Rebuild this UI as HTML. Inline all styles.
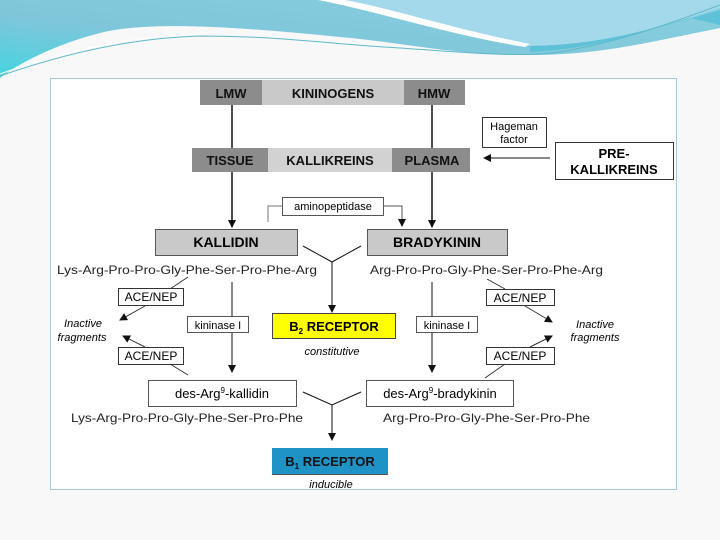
<!DOCTYPE html>
<html><head><meta charset="utf-8"><style>
html,body{margin:0;padding:0;background:#fff;}
svg{display:block;font-family:"Liberation Sans",sans-serif;}
</style></head><body>
<svg width="720" height="540" viewBox="0 0 720 540" xmlns="http://www.w3.org/2000/svg">
<defs>
<linearGradient id="g1" x1="0" y1="1" x2="1" y2="0">
<stop offset="0" stop-color="#45d4e0"/><stop offset="0.4" stop-color="#7fc6da"/><stop offset="1" stop-color="#88cfe0"/>
</linearGradient>
<marker id="a" markerWidth="8" markerHeight="8" refX="7" refY="4" orient="auto" markerUnits="userSpaceOnUse"><path d="M0,0 L8,4 L0,8 Z" fill="#111"/></marker>
</defs>
<rect width="720" height="540" fill="#f8f8f8"/>
<!-- wave -->
<path d="M0,0 H720 V28 C650,42 600,55 530,55 C450,55 400,42 340,37 C250,28 150,20 100,33 C60,43 20,62 0,78 Z" fill="url(#g1)"/>
<path d="M345,0 H720 V8 C650,30 600,45 530,46 C450,30 390,8 345,0 Z" fill="#a3d9ea"/>
<path d="M690,18 C640,32 600,48 530,52 L530,46 C600,45 650,30 720,10 V25 Z" fill="#56bfd6" opacity="0.8"/>
<path d="M318,0 C380,12 450,35 525,47 L530,44 C450,28 390,8 345,0 Z" fill="#fff"/>
<path d="M0,76 C60,55 130,38 200,36 C280,36 330,44 400,48 C460,52 520,58 560,52 C620,42 680,20 720,5" fill="none" stroke="#5fb8c8" stroke-width="1"/>
<path d="M0,74 C60,52 130,36 200,34" fill="none" stroke="#fff" stroke-width="1"/>
<!-- frame -->
<rect x="50.5" y="78.5" width="626" height="411" fill="#fff" stroke="#a9c6dc"/>
<!-- kininogens -->
<rect x="200" y="80" width="62" height="25" fill="#8c8c8c"/>
<rect x="262" y="80" width="142" height="25" fill="#c9c9c9"/>
<rect x="404" y="80" width="61" height="25" fill="#8c8c8c"/>
<g font-weight="bold" font-size="13" text-anchor="middle" fill="#111">
<text x="231" y="98">LMW</text><text x="333" y="98">KININOGENS</text><text x="434" y="98">HMW</text>
</g>
<line x1="232" y1="105" x2="232" y2="148" stroke="#111" stroke-width="1.5"/>
<line x1="432" y1="105" x2="432" y2="148" stroke="#111" stroke-width="1.5"/>
<!-- hageman -->
<rect x="482.5" y="117.5" width="64" height="30" fill="#fff" stroke="#333"/>
<text x="514" y="130" font-size="11" text-anchor="middle">Hageman</text>
<text x="514" y="143" font-size="11" text-anchor="middle">factor</text>
<!-- kallikreins -->
<rect x="192" y="148" width="76" height="24" fill="#8c8c8c"/>
<rect x="268" y="148" width="124" height="24" fill="#d2d2d2"/>
<rect x="392" y="148" width="78" height="24" fill="#8c8c8c"/>
<g font-weight="bold" font-size="13" text-anchor="middle" fill="#111">
<text x="230" y="165">TISSUE</text><text x="330" y="165">KALLIKREINS</text><text x="432" y="165">PLASMA</text>
</g>
<line x1="550" y1="158" x2="484" y2="158" stroke="#111" marker-end="url(#a)"/>
<rect x="555.5" y="142.5" width="118" height="37" fill="#fff" stroke="#333"/>
<text x="614" y="158" font-size="13" font-weight="bold" text-anchor="middle">PRE-</text>
<text x="614" y="174" font-size="13" font-weight="bold" text-anchor="middle">KALLIKREINS</text>
<line x1="232" y1="172" x2="232" y2="227" stroke="#111" stroke-width="1.5" marker-end="url(#a)"/>
<line x1="432" y1="172" x2="432" y2="227" stroke="#111" stroke-width="1.5" marker-end="url(#a)"/>
<!-- aminopeptidase -->
<polyline points="268,222 268,206 282,206" fill="none" stroke="#777"/>
<polyline points="383,206 402,206 402,226" fill="none" stroke="#555" marker-end="url(#a)"/>
<rect x="282.5" y="197.5" width="101" height="18" fill="#fff" stroke="#555"/>
<text x="333" y="210" font-size="11" text-anchor="middle">aminopeptidase</text>
<!-- kallidin/bradykinin -->
<rect x="155.5" y="229.5" width="142" height="26" fill="#c9c9c9" stroke="#555"/>
<text x="226" y="247" font-size="14" font-weight="bold" text-anchor="middle">KALLIDIN</text>
<rect x="367.5" y="229.5" width="140" height="26" fill="#c9c9c9" stroke="#555"/>
<text x="437" y="247" font-size="14" font-weight="bold" text-anchor="middle">BRADYKININ</text>
<polyline points="303,246 332,262 361,246" fill="none" stroke="#111"/>
<line x1="332" y1="262" x2="332" y2="312" stroke="#111" marker-end="url(#a)"/>
<g font-size="12" fill="#222">
<text x="57" y="274" textLength="260" lengthAdjust="spacingAndGlyphs">Lys-Arg-Pro-Pro-Gly-Phe-Ser-Pro-Phe-Arg</text>
<text x="370" y="274" textLength="233" lengthAdjust="spacingAndGlyphs">Arg-Pro-Pro-Gly-Phe-Ser-Pro-Phe-Arg</text>
</g>
<!-- left side -->
<line x1="232" y1="282" x2="232" y2="372" stroke="#111" marker-end="url(#a)"/>
<rect x="187.5" y="316.5" width="61" height="16" fill="#fff" stroke="#555"/>
<text x="218" y="329" font-size="11" text-anchor="middle">kininase I</text>
<line x1="188" y1="277" x2="170" y2="289" stroke="#333"/>
<rect x="118.5" y="288.5" width="65" height="17" fill="#fff" stroke="#333"/>
<text x="151" y="301" font-size="12" text-anchor="middle">ACE/NEP</text>
<line x1="145" y1="306" x2="120" y2="320" stroke="#333" marker-end="url(#a)"/>
<rect x="118.5" y="347.5" width="65" height="17" fill="#fff" stroke="#333"/>
<text x="151" y="360" font-size="12" text-anchor="middle">ACE/NEP</text>
<line x1="145" y1="347" x2="123" y2="336" stroke="#333" marker-end="url(#a)"/>
<line x1="170" y1="364" x2="188" y2="375" stroke="#333"/>
<g font-size="11" font-style="italic" text-anchor="middle">
<text x="83" y="327">Inactive</text><text x="82" y="341">fragments</text>
<text x="595" y="328">Inactive</text><text x="595" y="341">fragments</text>
</g>
<!-- right side -->
<line x1="432" y1="282" x2="432" y2="372" stroke="#111" marker-end="url(#a)"/>
<rect x="416.5" y="316.5" width="61" height="16" fill="#fff" stroke="#555"/>
<text x="447" y="329" font-size="11" text-anchor="middle">kininase I</text>
<line x1="487" y1="279" x2="505" y2="289" stroke="#333"/>
<rect x="486.5" y="289.5" width="68" height="16" fill="#fff" stroke="#333"/>
<text x="520" y="302" font-size="12" text-anchor="middle">ACE/NEP</text>
<line x1="525" y1="306" x2="552" y2="322" stroke="#333" marker-end="url(#a)"/>
<rect x="486.5" y="347.5" width="68" height="17" fill="#fff" stroke="#333"/>
<text x="520" y="360" font-size="12" text-anchor="middle">ACE/NEP</text>
<line x1="530" y1="347" x2="552" y2="336" stroke="#333" marker-end="url(#a)"/>
<line x1="505" y1="364" x2="485" y2="378" stroke="#333"/>
<!-- B2 -->
<rect x="272.5" y="313.5" width="123" height="25" fill="#ffff00" stroke="#444"/>
<text x="334" y="331" font-size="13" font-weight="bold" text-anchor="middle">B<tspan font-size="8" dy="3">2</tspan><tspan dy="-3"> RECEPTOR</tspan></text>
<text x="332" y="355" font-size="11" font-style="italic" text-anchor="middle">constitutive</text>
<!-- des-Arg -->
<rect x="148.5" y="380.5" width="148" height="26" fill="#fff" stroke="#555"/>
<text x="222" y="398" font-size="13" text-anchor="middle">des-Arg<tspan font-size="8" dy="-5">9</tspan><tspan dy="5">-kallidin</tspan></text>
<rect x="366.5" y="380.5" width="147" height="26" fill="#fff" stroke="#555"/>
<text x="440" y="398" font-size="13" text-anchor="middle">des-Arg<tspan font-size="8" dy="-5">9</tspan><tspan dy="5">-bradykinin</tspan></text>
<polyline points="303,392 332,405 361,392" fill="none" stroke="#111"/>
<line x1="332" y1="405" x2="332" y2="440" stroke="#111" marker-end="url(#a)"/>
<g font-size="12" fill="#222">
<text x="71" y="422" textLength="232" lengthAdjust="spacingAndGlyphs">Lys-Arg-Pro-Pro-Gly-Phe-Ser-Pro-Phe</text>
<text x="383" y="422" textLength="207" lengthAdjust="spacingAndGlyphs">Arg-Pro-Pro-Gly-Phe-Ser-Pro-Phe</text>
</g>
<!-- B1 -->
<rect x="272" y="448" width="116" height="26" fill="#1f92c6"/>
<line x1="272" y1="474.5" x2="388" y2="474.5" stroke="#555"/>
<text x="330" y="466" font-size="13" font-weight="bold" text-anchor="middle" fill="#111">B<tspan font-size="8" dy="3">1</tspan><tspan dy="-3"> RECEPTOR</tspan></text>
<text x="331" y="488" font-size="11" font-style="italic" text-anchor="middle">inducible</text>
</svg>
</body></html>
